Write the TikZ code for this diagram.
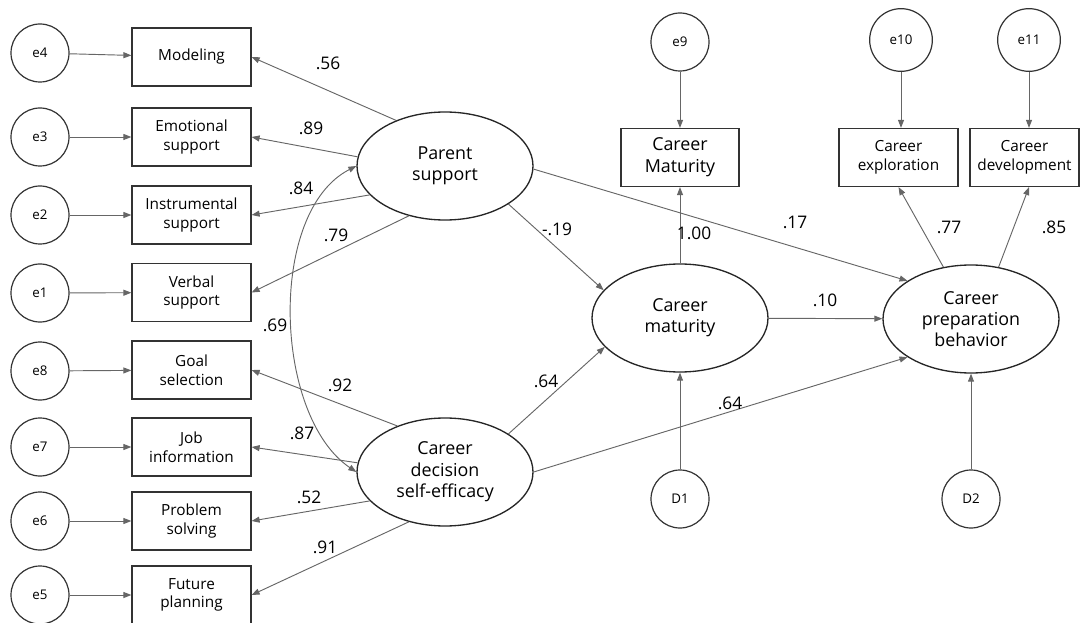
\documentclass[tikz,border=0pt]{standalone}
\usepackage{fontspec}
\setmainfont{Open Sans}
\usetikzlibrary{arrows.meta, shapes.geometric}

\begin{document}
\begin{tikzpicture}[x = 0.75pt, y = 0.75pt,
  indicador/.style = {draw = black!80, line width = 0.9pt, rectangle, minimum width = 89.25pt, %
    minimum height = 43.5pt, inner sep = 1pt, align = center, font = \fontsize{11.5}{14}\selectfont},
  error/.style = {draw = black!80, line width = 0.9pt, circle, minimum size = 43.5pt, inner sep = 0pt, %
    font = \fontsize{10}{12}\selectfont},
  latente/.style = {draw = black!85, line width = 1pt, ellipse, minimum width = 132pt, %
    minimum height = 81pt, inner sep = 0pt, align = center, font = \fontsize{13.4}{16}\selectfont},
  ruta/.style = {-{Triangle[length = 6pt, width = 4.5pt]}, draw = black!60, line width = 0.7pt},
  covarianza/.style = {{Triangle[length = 6pt, width = 4.5pt]}-{Triangle[length = 6pt, width = 4.5pt]}, %
    draw = black!60, line width = 0.7pt},
  coef/.style = {inner sep = 0pt, font = \fontsize{13}{15}\selectfont}
]
\useasboundingbox (0, 0) rectangle (1080, -623);
% indicadores de la izquierda
\foreach \e/\m/\y/\ey/\txt in {4/1/57/53/Modeling, 3/2/137/137/Emotional\\support, %
  2/3/215/215/Instrumental\\support, 1/4/292.5/293/Verbal\\support, 8/5/370/371/Goal\\selection, %
  7/6/447/447/Job\\information, 6/7/521/521/Problem\\solving, 5/8/595/595/Future\\planning}{
  \node[indicador] (m\m) at (191.5, -\y) {\txt};
  \node[error] (e\e) at (40, -\ey) {e\e};
  \draw[ruta] (e\e) -- (m\m);
}
\node[latente] (ps) at (445, -166) {Parent\\support};
\node[latente] (cdse) at (445, -472) {Career\\decision\\self-efficacy};
\node[latente] (cm) at (680, -318) {Career\\maturity};
\node[latente] (cpb) at (971, -319) {Career\\preparation\\behavior};
\node[indicador, minimum width = 88.5pt, font = \fontsize{13.4}{16.5}\selectfont] (cmo) at (680, -157.5) {Career\\Maturity};
\node[indicador] (cex) at (898.5, -157.5) {Career\\exploration};
\node[indicador, minimum width = 81.75pt] (cde) at (1024.5, -157.5) {Career\\development};
\node[error] (e9) at (680, -42) {e9};
\node[error, minimum size = 47pt] (e10) at (901, -40) {e10};
\node[error, minimum size = 47pt] (e11) at (1029, -40) {e11};
\node[error] (D1) at (680, -499) {D1};
\node[error] (D2) at (971, -499) {D2};
% cargas factoriales
\foreach \m/\a in {1/137, 2/174, 3/201, 4/234.5}
  \draw[ruta] (ps.\a) -- (m\m.east);
\foreach \m/\a in {5/136, 6/174, 7/201, 8/234}
  \draw[ruta] (cdse.\a) -- (m\m.east);
\draw[covarianza] (ps.west) .. controls +(207:100) and +(146:100) .. (cdse.west);
\draw[ruta] (e9) -- (cmo);
\draw[ruta] (e10) -- (e10 |- cex.north);
\draw[ruta] (e11) -- (e11 |- cde.north);
\draw[ruta] (cm) -- (cmo);
\draw[ruta] (cpb.118) -- (cex.south);
\draw[ruta] (cpb.62) -- (e11 |- cde.south);
\draw[ruta] (ps.-31) -- (cm.160);
\draw[ruta] (ps.-2) -- (cpb.149);
\draw[ruta] (cdse.31) -- (cm.201);
\draw[ruta] (cdse.0) -- (cpb.211);
\draw[ruta] (cm) -- (cpb);
\draw[ruta] (D1) -- (cm);
\draw[ruta] (D2) -- (cpb);
% coeficientes
\node[coef] (c56) at (328, -63) {.56};
\node[coef] (c89) at (311, -128) {.89};
\node[coef] (c84) at (301, -188) {.84};
\node[coef] (c79) at (336, -235) {.79};
\node[coef] (c69) at (275, -325) {.69};
\node[coef] (c92) at (340, -385) {.92};
\node[coef] (c87) at (302, -433) {.87};
\node[coef] (c52) at (309, -497) {.52};
\node[coef] (c91) at (325, -547) {.91};
\node[coef] (c19) at (557, -229) {-.19};
\node[coef] (c100) at (694, -233) {1.00};
\node[coef] (c17) at (795, -222) {.17};
\node[coef] (c10) at (825, -300) {.10};
\node[coef] (c77) at (949, -227) {.77};
\node[coef] (c85) at (1054, -227) {.85};
\node[coef] (c64a) at (546, -381) {.64};
\node[coef] (c64b) at (730, -403) {.64};
\end{tikzpicture}
\end{document}
